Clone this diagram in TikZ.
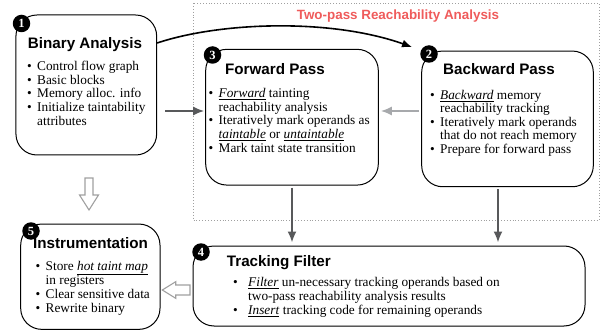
\documentclass[tikz,border=0pt]{standalone}
\usepackage{fontspec}
\setmainfont{Liberation Serif}
\newfontfamily\headfont{Liberation Sans}
\usetikzlibrary{arrows.meta,calc}

\definecolor{flowred}{HTML}{EF5B5B}
\definecolor{darkarrow}{HTML}{58595B}
\definecolor{lightarrow}{HTML}{A7A9AC}
\definecolor{framegray}{HTML}{A0A0A0}

% bullet with a fixed gap before the text, and the matching indent for wrapped lines
\newcommand\bul[1][10pt]{\makebox[#1][l]{\textbullet}}
\newcommand\cont[1][10pt]{\hspace*{#1}}
\newcommand\emphul[1]{\underline{\textit{#1}}}

\begin{document}
\begin{tikzpicture}[x=1pt,y=-1pt,
  box/.style={draw=black, line width=1pt, rounded corners=21pt, fill=white, inner sep=0pt},
  badge/.style={circle, fill=black, text=white, inner sep=0pt, minimum size=17.5pt,
    font=\bfseries\fontsize{12.5}{12.5}\selectfont},
  title/.style={anchor=base, inner sep=0pt, font=\headfont\bfseries\fontsize{15.2}{15.2}\selectfont},
  body/.style={anchor=north west, inner sep=0pt, align=left,
    font=\fontsize{13.3}{13.6}\selectfont},
  darr/.style={draw=darkarrow, line width=1.8pt, -{Latex[length=11pt,width=9pt]}},
  larr/.style={draw=lightarrow, line width=1.8pt, -{Latex[length=11pt,width=9pt]}},
  curvearr/.style={draw=black, line width=1.6pt, -{Latex[length=10pt,width=8pt]}},
  hollow/.style={draw=framegray, line width=1.1pt, fill=white, line join=miter},
]
\useasboundingbox (0,0) rectangle (602,331);

% frame around the two reachability passes
\draw[framegray, line width=0.9pt, dotted] (193,3) rectangle (599,220);
\node[anchor=base, inner sep=0pt, text=flowred,
  font=\headfont\bfseries\fontsize{13.4}{13.4}\selectfont] (frametitle) at (398,19.3)
  {Two-pass Reachability Analysis};

% stage boxes
\node[box, minimum width=140.7pt, minimum height=140pt]   (bin) at (86.3,85)    {};
\node[box, minimum width=172.6pt, minimum height=135.7pt] (fwd) at (292,117.2)  {};
\node[box, minimum width=171.6pt, minimum height=135.7pt] (bwd) at (507.5,118.9) {};
\node[box, minimum width=139.3pt, minimum height=105.3pt] (ins) at (90.35,276.7) {};
\node[box, minimum width=392pt,   minimum height=80pt]    (trk) at (389,286)    {};

% step numbers
\node[badge] (b1) at (21.5,23.5) {1};
\node[badge] (b2) at (429,54)    {2};
\node[badge] (b3) at (212.5,55)  {3};
\node[badge] (b4) at (201,252)   {4};
\node[badge] (b5) at (31,231)    {5};

% titles
\node[title] (tbin) at (85,49)     {Binary Analysis};
\node[title] (tfwd) at (275,75)    {Forward Pass};
\node[title] (tbwd) at (499,75)    {Backward Pass};
\node[title] (tins) at (90.5,248)  {Instrumentation};
\node[title, anchor=base west] (ttrk) at (226.7,266.7) {Tracking Filter};

% box contents
\node[body] (xbin) at (27,60.5) {\rule{0pt}{10pt}\bul Control flow graph\\
  \bul Basic blocks\\
  \bul Memory alloc. info\\
  \bul Initialize taintability\\
  \cont attributes};
\node[body] (xfwd) at (208.5,87.5) {\rule{0pt}{10pt}\bul \emphul{Forward} tainting\\
  \cont reachability analysis\\
  \bul Iteratively mark operands as\\
  \cont \emphul{taintable} or \emphul{untaintable}\\
  \bul Mark taint state transition};
\node[body] (xbwd) at (430,89) {\rule{0pt}{10pt}\bul \emphul{Backward} memory\\
  \cont reachability tracking\\
  \bul Iteratively mark operands\\
  \cont that do not reach memory\\
  \bul Prepare for forward pass};
\node[body] (xins) at (35.5,260) {\rule{0pt}{10pt}\bul Store \emphul{hot taint map}\\
  \cont in registers\\
  \bul Clear sensitive data\\
  \bul Rewrite binary};
\node[body, font=\fontsize{13.3}{14}\selectfont] (xtrk) at (233,276)
  {\rule{0pt}{10pt}\bul[15pt]\emphul{Filter} un-necessary tracking operands based on\\
  \cont[15pt]two-pass reachability analysis results\\
  \bul[15pt]\emphul{Insert} tracking code for remaining operands};

% connectors
\coordinate (rowy) at (0,111);
\coordinate (bwdx) at (498,0);
\coordinate (curvetip) at (412,47);

\draw[curvearr] (bin.east |- 0,43) .. controls (220,22) and (330,18) .. (curvetip);
\draw[darr, shorten <=8pt, shorten >=1pt] (bin.east |- rowy) -- (fwd.west |- rowy);
\draw[larr, shorten <=2pt, shorten >=2pt] (bwd.west |- rowy) -- (fwd.east |- rowy);
\draw[darr, shorten <=2pt, shorten >=3pt] (fwd.south) -- (fwd.south |- trk.north);
\draw[darr, shorten <=2pt, shorten >=3pt] (bwd.south -| bwdx) -- (trk.north -| bwdx);

% hollow arrows into and out of the tracking stage
\draw[hollow] (85,178) -- (93,178) -- (93,195) -- (98.5,195) -- (89,210)
  -- (79.5,195) -- (85,195) -- cycle;
\draw[hollow] (190,285) -- (175.7,285) -- (175.7,281.7) -- (162.3,290)
  -- (175.7,298.3) -- (175.7,295) -- (190,295) -- cycle;
\end{tikzpicture}
\end{document}
